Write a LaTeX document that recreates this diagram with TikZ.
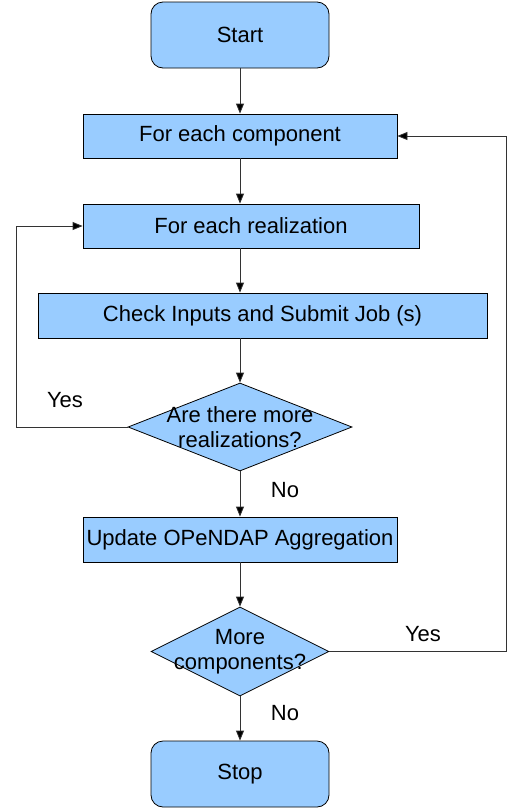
\documentclass[tikz,border=0pt]{standalone}
\usepackage{fontspec}
\setmainfont{Liberation Sans}
\usetikzlibrary{shapes.geometric,arrows.meta}
\definecolor{boxblue}{HTML}{99CCFF}
\definecolor{linegray}{HTML}{333333}
\begin{document}
\begin{tikzpicture}[x=1pt,y=-1pt,
  every node/.style={font=\fontsize{22}{25}\selectfont},
  term/.style={draw=black,fill=boxblue,rounded corners=12pt,minimum width=178pt,minimum height=66pt,inner sep=0pt,line width=0.8pt},
  proc/.style={draw=black,fill=boxblue,minimum height=44pt,inner sep=0pt,line width=0.8pt},
  dec/.style={draw=black,fill=boxblue,diamond,inner sep=0pt,line width=0.8pt},
  lbl/.style={inner sep=0pt},
  conn/.style={draw=linegray,line width=0.8pt,-{Triangle[length=10pt,width=8pt,fill=black]}},
  plain/.style={draw=linegray,line width=0.8pt}]
\useasboundingbox (0,0) rectangle (509,809);
\node[term] (start) at (240,35) {Start};
\node[proc,minimum width=314pt] (comp) at (240,136) {For each component};
\node[proc,minimum width=336pt] (real) at (251,226) {For each realization};
\node[proc,minimum width=449pt,minimum height=45pt] (check) at (262.5,315.5) {Check Inputs and Submit Job (s)};
\node[dec,minimum width=224pt,minimum height=88pt] (d1) at (240,427) {};
\node[lbl,align=center] (d1t) at (240,427) {Are there more\\realizations?};
\node[proc,minimum width=314pt,minimum height=45pt] (upd) at (240,539.5) {Update OPeNDAP Aggregation};
\node[dec,minimum width=178pt,minimum height=89pt] (d2) at (240,651.5) {};
\node[lbl,align=center] (d2t) at (240,651.5) {More\\components?};
\node[term] (stop) at (240,774) {Stop};
\coordinate (y1a) at (16,427);
\coordinate (y1b) at (16,226);
\coordinate (y2a) at (506,651.5);
\coordinate (y2b) at (506,136);
\draw[conn] (start) -- (comp);
\draw[conn] (comp) -- (comp|-real.north);
\draw[conn] (comp|-real.south) -- (comp|-check.north);
\draw[conn] (comp|-check.south) -- (d1);
\draw[conn] (d1) -- (upd);
\draw[conn] (upd) -- (d2);
\draw[conn] (d2) -- (stop);
\draw[conn] (d1.west) -- (y1a) -- (y1b) -- (real.west);
\draw[conn] (d2.east) -- (y2a) -- (y2b) -- (comp.east);
\node[lbl] (yes1) at (65,400) {Yes};
\node[lbl] (no1) at (285,490) {No};
\node[lbl] (yes2) at (423,634) {Yes};
\node[lbl] (no2) at (285,713) {No};
\end{tikzpicture}
\end{document}
